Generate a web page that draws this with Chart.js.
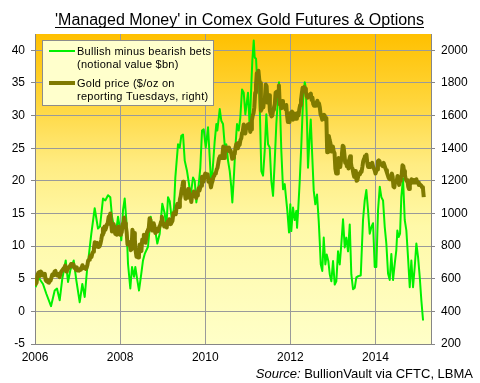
<!DOCTYPE html>
<html><head><meta charset="utf-8">
<script src="https://cdn.jsdelivr.net/npm/chart.js@4.4.1/dist/chart.umd.min.js"></script>
<style>html,body{margin:0;padding:0;background:#fff}</style>
</head><body>
<canvas id="c" width="480" height="383" style="display:block;width:480px;height:383px"></canvas>
<script>
// ---------- text ----------
const titleText = "'Managed Money' in Comex Gold Futures & Options";
const sourceLabel = "Source:";
const sourceRest = " BullionVault via CFTC, LBMA";
const legendNet = ["Bullish minus bearish bets", "(notional value $bn)"];
const legendGold = ["Gold price ($/oz on", "reporting Tuesdays, right)"];

// ---------- axes ----------
const firstReport = 2006.447;          // 13 June 2006, first CFTC 'managed money' report
const weekYears = 7 / 365.25;
const xTickWeeks = [0, 104, 208, 312, 416];
const xTickLabels = ["2006", "2008", "2010", "2012", "2014"];
const xMax = 2015.72;
const leftMin = -5, leftMax = 42.5, leftStep = 5, leftTop = 40;
const rightMin = 200, rightMax = 2100, rightStep = 200, rightTop = 2000;

// ---------- series: gold price, weekly on reporting Tuesdays ($/oz) ----------
const goldWeekly = [
 567,580,576,622,635,640,617,644,640,623,620,620,630,592,585,594,578,576,586,588,606,625,622,628,645,648,626,620,626,
 630,610,628,642,650,650,664,667,681,645,651,660,665,673,680,690,683,675,688,667,667,655,670,650,656,650,655,664,668,683,665,670,668,660,668,683,712,716,733,742,733,755,765,787,823,796,800,820,795,810,800,815,
 840,870,910,882,920,900,915,935,946,980,974,1000,940,890,925,935,915,875,880,870,915,920,890,870,890,885,935,925,975,940,920,885,810,815,825,805,775,780,900,880,880,840,770,735,760,730,740,810,780,770,840,840,870,
 860,820,850,890,900,910,970,960,915,895,915,940,920,880,895,905,890,905,920,930,950,980,950,935,920,935,925,915,950,935,965,945,935,945,955,1000,1005,1010,995,1040,1060,1060,1040,1085,1105,1140,1165,1195,1150,1125,1090,1095,
 1120,1150,1140,1095,1110,1070,1115,1105,1135,1120,1125,1095,1110,1135,1155,1140,1160,1170,1225,1225,1195,1225,1245,1230,1235,1240,1195,1210,1190,1160,1185,1200,1225,1230,1245,1250,1270,1280,1310,1340,1350,1340,1340,1355,1410,1340,1375,1385,1405,1395,1385,1405,
 1380,1385,1365,1335,1340,1360,1365,1405,1425,1430,1400,1430,1420,1450,1460,1495,1510,1545,1515,1490,1525,1535,1545,1525,1550,1500,1515,1570,1600,1615,1650,1740,1785,1860,1820,1875,1820,1800,1630,1640,1670,1650,1700,1715,1790,1780,1680,1715,1725,1630,1610,1595,
 1600,1635,1650,1670,1740,1745,1720,1750,1785,1670,1690,1645,1690,1670,1655,1650,1640,1665,1600,1560,1575,1560,1615,1605,1625,1575,1615,1580,1590,1580,1615,1610,1600,1640,1665,1695,1735,1770,1765,1775,1765,1745,1720,1710,1715,1725,1730,1735,1695,1710,1670,1660,
 1660,1660,1680,1690,1660,1675,1650,1605,1595,1575,1590,1605,1600,1575,1585,1375,1420,1475,1450,1430,1380,1380,1410,1380,1370,1275,1245,1245,1290,1340,1325,1285,1330,1365,1415,1410,1365,1310,1320,1290,1320,1275,1330,1350,1310,1280,1275,1245,1225,1260,1230,1200,1205,
 1230,1245,1240,1255,1255,1285,1320,1335,1350,1345,1360,1310,1285,1305,1295,1285,1300,1310,1290,1290,1265,1245,1260,1270,1320,1325,1320,1300,1305,1295,1290,1310,1295,1280,1265,1250,1235,1220,1210,1210,1230,1245,1225,1165,1160,1195,1195,1200,1230,1195,1175,1200,
 1220,1235,1295,1290,1260,1235,1210,1200,1205,1165,1150,1190,1185,1210,1195,1190,1205,1190,1190,1210,1190,1190,1175,1180,1175,1170,1160,1155,1100
];

// ---------- series: managed money net long, notional $bn ----------
const netYears = [
 2006.463,2006.517,2006.634,2006.712,2006.822,2006.908,2006.962,2007.025,2007.086,2007.166,2007.220,2007.274,2007.353,2007.414,2007.494,2007.555,2007.611,2007.665,2007.712,2007.766,2007.845,2007.922,
 2007.969,2008.040,2008.093,2008.157,2008.210,2008.250,2008.297,2008.351,2008.391,2008.431,2008.468,2008.508,2008.548,2008.585,2008.625,2008.679,2008.719,2008.766,2008.796,2008.843,2008.883,2008.936,2008.976,2009.016,2009.093,2009.157,2009.210,2009.250,2009.311,2009.367,2009.428,2009.484,2009.522,
 2009.562,2009.602,2009.655,2009.702,2009.733,2009.796,2009.836,2009.873,2009.913,2009.953,2010.007,2010.054,2010.084,2010.147,2010.187,2010.225,2010.281,2010.318,2010.358,2010.398,2010.445,2010.499,2010.538,2010.576,2010.616,2010.655,2010.693,2010.716,2010.773,2010.810,2010.850,2010.890,2010.927,2010.967,
 2011.007,2011.044,2011.068,2011.107,2011.138,2011.178,2011.217,2011.255,2011.295,2011.335,2011.372,2011.412,2011.435,2011.475,2011.513,2011.536,2011.569,2011.592,2011.623,2011.653,2011.686,2011.716,2011.747,2011.787,2011.826,2011.864,2011.904,2011.943,2011.981,2012.021,2012.061,2012.098,2012.138,2012.161,2012.192,2012.215,2012.255,2012.295,2012.318,2012.356,2012.395,2012.426,2012.449,2012.489,
 2012.529,2012.566,2012.583,2012.613,2012.646,2012.684,2012.723,2012.763,2012.787,2012.817,2012.840,2012.880,2012.904,2012.934,2012.974,2013.011,2013.051,2013.091,2013.114,2013.138,2013.175,2013.208,2013.246,2013.278,2013.316,2013.349,2013.386,2013.426,2013.466,2013.503,2013.543,2013.583,2013.620,2013.660,2013.700,2013.737,2013.777,2013.817,2013.854,2013.894,2013.934,2013.972,2014.018,
 2014.075,2014.128,2014.168,2014.206,2014.246,2014.285,2014.323,2014.363,2014.402,2014.440,2014.480,2014.520,2014.557,2014.597,2014.637,2014.674,2014.714,2014.754,2014.791,2014.831,2014.871,2014.908,2014.932,2014.965,2014.995,2015.025,2015.065,2015.105,2015.143,2015.182,2015.222,2015.260,2015.299,2015.339,2015.377,2015.417,2015.456,2015.494,2015.534
];
const netValues = [
 3.7,5.3,4.2,2.7,0.8,3.2,3.5,1.7,5.0,7.8,4.5,6.3,7.8,4.8,1.4,4.2,2.2,6.3,8.8,11.9,15.8,12.7,
 13.0,17.3,17.0,17.8,17.5,14.5,12.9,12.4,14.5,12.9,10.9,15.5,17.3,14.0,7.3,3.5,6.8,5.3,6.8,4.8,3.2,5.8,7.8,8.8,9.9,14.5,12.4,12.9,10.4,11.9,16.5,15.0,12.8,
 17.5,16.9,13.8,15.9,20.5,25.6,25.1,26.9,27.1,23.1,21.5,19.5,17.4,20.5,20.0,16.7,19.5,22.0,27.7,27.9,25.1,28.2,23.6,19.0,22.5,26.1,28.7,27.7,31.0,29.2,28.7,25.4,25.6,23.1,
 21.5,19.0,16.7,21.0,25.1,28.7,27.7,29.7,34.0,33.5,30.2,32.3,33.5,28.2,34.8,38.4,41.5,38.9,38.7,34.8,36.9,29.7,21.5,20.8,24.6,30.2,25.6,25.1,20.0,17.7,23.1,28.7,32.8,35.1,29.7,24.6,18.7,19.5,17.9,15.4,12.1,16.4,12.3,15.9,
 14.0,15.4,12.8,15.9,20.0,25.6,32.3,35.1,34.3,28.7,22.0,27.1,29.4,24.6,18.5,16.4,17.9,13.8,10.8,7.2,6.2,11.3,7.2,8.7,7.7,5.7,4.6,7.7,4.1,4.6,9.2,7.2,10.3,14.1,9.8,11.3,9.2,13.3,5.7,3.4,3.6,5.2,5.4,
 5.5,14.0,17.0,18.6,15.5,11.9,12.9,13.5,6.8,6.8,15.5,19.1,17.5,17.0,12.9,10.4,5.8,4.8,8.8,4.8,7.3,9.4,12.4,11.4,11.9,17.5,20.4,14.0,12.4,8.3,3.7,7.8,3.7,6.8,10.4,8.3,5.3,1.7,-1.4
];

// ---------- build library data ----------
const goldPoints = goldWeekly.map((v, i) => ({ x: firstReport + i * weekYears, y: v }));
const netPoints = netValues.map((v, i) => ({ x: netYears[i], y: v }));
const xTickValues = xTickWeeks.map(w => firstReport + w * weekYears);

const FONT = '"Liberation Sans", Arial, sans-serif';
Chart.defaults.font.family = FONT;
Chart.defaults.color = '#000';

const gridGray = '#9a9a9a';
const axisGray = '#868686';

const bgPlugin = {
  id: 'bg',
  beforeDraw(chart) {
    const { ctx, chartArea: a } = chart;
    const g = ctx.createLinearGradient(0, a.top, 0, a.bottom);
    g.addColorStop(0, '#FFC000');
    g.addColorStop(0.22, '#FFD63C');
    g.addColorStop(0.42, '#FFEC82');
    g.addColorStop(0.62, '#FFF9A8');
    g.addColorStop(1, '#FFFFC8');
    ctx.save();
    ctx.fillStyle = g;
    ctx.fillRect(a.left, a.top, a.right - a.left, a.bottom - a.top);
    ctx.restore();
  }
};

const textPlugin = {
  id: 'texts',
  afterDatasetsDraw(chart) {
    const ctx = chart.ctx;
    const ds = chart.data.datasets;
    ctx.save();
    // legend box
    ctx.fillStyle = '#FFFFCC';
    ctx.fillRect(42, 40, 172, 66);
    ctx.strokeStyle = '#8c8c8c';
    ctx.lineWidth = 1;
    ctx.strokeRect(42.5, 40.5, 171, 65);
    const net = ds.find(d => d.id === 'net');
    const gold = ds.find(d => d.id === 'gold');
    ctx.lineCap = 'butt';
    ctx.strokeStyle = net.borderColor; ctx.lineWidth = net.borderWidth;
    ctx.beginPath(); ctx.moveTo(49, 51); ctx.lineTo(75, 51); ctx.stroke();
    ctx.strokeStyle = gold.borderColor; ctx.lineWidth = gold.borderWidth;
    ctx.beginPath(); ctx.moveTo(49, 83); ctx.lineTo(75, 83); ctx.stroke();
    ctx.fillStyle = '#000';
    ctx.font = '11px ' + FONT;
    if ('letterSpacing' in ctx) ctx.letterSpacing = '0.25px';
    ctx.textAlign = 'left';
    ctx.textBaseline = 'alphabetic';
    ctx.fillText(legendNet[0], 77, 55);
    ctx.fillText(legendNet[1], 77, 68);
    ctx.fillText(legendGold[0], 77, 87);
    ctx.fillText(legendGold[1], 77, 100);
    ctx.restore();
  },
  afterDraw(chart) {
    const ctx = chart.ctx;
    ctx.save();
    ctx.fillStyle = '#000';
    ctx.font = '16px ' + FONT;
    ctx.textAlign = 'center';
    ctx.textBaseline = 'alphabetic';
    const cx = 239.5;
    ctx.fillText(titleText, cx, 25);
    const w = ctx.measureText(titleText).width;
    ctx.fillRect(Math.round(cx - w / 2), 27, Math.round(w), 1);
    // source
    ctx.textAlign = 'right';
    ctx.font = '13px ' + FONT;
    const restW = ctx.measureText(sourceRest).width;
    ctx.fillText(sourceRest, 473, 378);
    ctx.font = 'italic 13px ' + FONT;
    ctx.fillText(sourceLabel, 473 - restW, 378);
    ctx.restore();
  }
};

new Chart(document.getElementById('c'), {
  type: 'line',
  data: {
    datasets: [
      { id: 'gold', label: 'Gold', data: goldPoints, yAxisID: 'y2', borderColor: '#7F7A00', borderWidth: 4,
        pointRadius: 0, tension: 0, fill: false, order: 0, borderJoinStyle: 'round' },
      { id: 'net', label: 'Net', data: netPoints, yAxisID: 'y', borderColor: '#00F000', borderWidth: 2,
        pointRadius: 0, tension: 0, fill: false, order: 1, borderJoinStyle: 'round' }
    ]
  },
  options: {
    responsive: false,
    animation: false,
    devicePixelRatio: 1,
    layout: { padding: { top: 34, left: 0, right: 0, bottom: 0 } },
    plugins: { legend: { display: false }, title: { display: false }, tooltip: { enabled: false } },
    scales: {
      x: {
        type: 'linear', min: firstReport, max: xMax,
        afterBuildTicks: s => { s.ticks = xTickValues.map(v => ({ value: v })); },
        afterFit: s => { s.height = 39; },
        ticks: { autoSkip: false, maxRotation: 0, padding: 6, font: { size: 12 },
                 callback: (v, i) => xTickLabels[i] },
        grid: { color: gridGray, lineWidth: 1, drawTicks: false },
        border: { display: true, color: axisGray }
      },
      y: {
        type: 'linear', position: 'left', min: leftMin, max: leftMax,
        afterBuildTicks: s => {
          const t = [];
          for (let v = leftMin; v <= leftTop; v += leftStep) t.push({ value: v });
          s.ticks = t;
        },
        afterFit: s => { s.width = 35; },
        ticks: { padding: 6, font: { size: 12 }, callback: v => String(v) },
        grid: { color: gridGray, lineWidth: 1, drawTicks: true, tickLength: 4, tickColor: axisGray },
        border: { display: true, color: axisGray }
      },
      y2: {
        type: 'linear', position: 'right', min: rightMin, max: rightMax,
        afterBuildTicks: s => {
          const t = [];
          for (let v = rightMin; v <= rightTop; v += rightStep) t.push({ value: v });
          s.ticks = t;
        },
        afterFit: s => { s.width = 49; },
        ticks: { padding: 6, font: { size: 12 }, callback: v => String(v) },
        grid: { drawOnChartArea: false, drawTicks: true, tickLength: 4, tickColor: axisGray },
        border: { display: true, color: axisGray }
      }
    }
  },
  plugins: [bgPlugin, textPlugin]
});
</script>
</body></html>
